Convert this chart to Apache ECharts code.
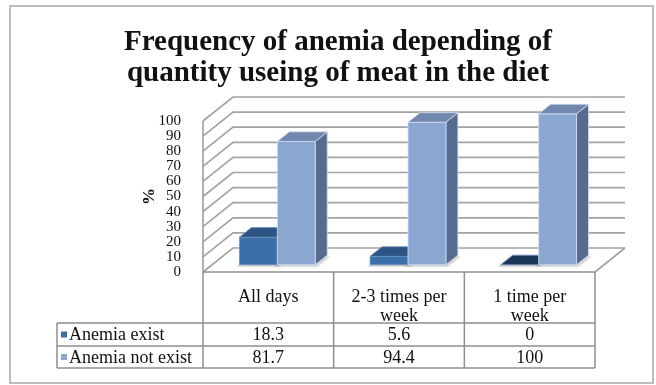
<!DOCTYPE html>
<html>
<head>
<meta charset="utf-8">
<script src="https://cdn.jsdelivr.net/npm/echarts@6/dist/echarts.min.js"></script>
<style>
  html, body { margin: 0; padding: 0; background: #fff; }
  #chart { width: 656px; height: 385px; }
</style>
</head>
<body>
<div id="chart"></div>
<script>
// Meat consumption frequency groups and anemia share (%) in each group
const categories = ['All days', '2-3 times per\nweek', '1 time per\nweek'];
const seriesNames = ['Anemia exist', 'Anemia not exist'];
const anemiaExist = [18.3, 5.6, 0];
const anemiaNotExist = [81.7, 94.4, 100];
const yTicks = [0, 10, 20, 30, 40, 50, 60, 70, 80, 90, 100];

// Plot box (front plane of the pseudo-3D box) and depth projection
const GRID = { left: 203, top: 121, width: 392, height: 151 };
const DX = 30, DY = -24;           // offset from the front plane to the back wall
const BAR_D0 = 0.3, BAR_D1 = 0.7;  // bar depth range, as fraction of box depth
const BAR_W = 0.29;                // bar width, as fraction of category band

const palettes = [
  { front: '#3b6fa9', top: '#2b5483', side: '#22446c', edge: '#6d93c2' },
  { front: '#8ba7d1', top: '#7088ae', side: '#566b8f', edge: '#d3def0' }
];
const SERIF = '"Liberation Serif", "Times New Roman", serif';

const chart = echarts.init(document.getElementById('chart'), null, { renderer: 'canvas' });

function barRender(seriesIdx) {
  return function (params, api) {
    const i = api.value(0);
    const v = api.value(1);
    const band = api.size([1, 0])[0];
    const base = api.coord([i, 0]);
    const topP = api.coord([i, v]);
    const w = band * BAR_W;
    const ox = DX * BAR_D0, oy = DY * BAR_D0;
    const dx = DX * (BAR_D1 - BAR_D0), dy = DY * (BAR_D1 - BAR_D0);
    const x0 = base[0] + ox + (seriesIdx === 0 ? -w : 0);
    const x1 = x0 + w;
    const yb = base[1] + oy;
    const yt = topP[1] + oy;
    const pal = palettes[seriesIdx];
    const children = [];
    // soft shadow on the floor
    children.push({
      type: 'polygon',
      shape: { points: [[x0 - 3, yb + 2], [x1 + 2, yb + 2], [x1 + dx + 3, yb + dy + 1], [x0 + dx - 2, yb + dy + 1]] },
      style: { fill: 'rgba(120,120,120,0.25)', shadowBlur: 4, shadowColor: 'rgba(0,0,0,0.25)' },
      z2: 0
    });
    if (yb - yt > 0.5) {
      children.push({
        type: 'polygon',
        shape: { points: [[x1, yb], [x1 + dx, yb + dy], [x1 + dx, yt + dy], [x1, yt]] },
        style: { fill: pal.side, stroke: pal.edge, lineWidth: 0.8 },
        z2: 1
      });
      children.push({
        type: 'rect',
        shape: { x: x0, y: yt, width: w, height: yb - yt },
        style: { fill: pal.front, stroke: pal.edge, lineWidth: 0.8 },
        z2: 2
      });
    }
    children.push({
      type: 'polygon',
      shape: { points: [[x0, yt], [x1, yt], [x1 + dx, yt + dy], [x0 + dx, yt + dy]] },
      style: { fill: v === 0 ? '#1c3657' : pal.top, stroke: pal.edge, lineWidth: 0.8 },
      z2: 3
    });
    return { type: 'group', children: children };
  };
}

function wallRender(params, api) {
  const v = api.value(0);
  const band = api.size([1, 0])[0];
  const c = api.coord([0, v]);
  const left = c[0] - band / 2;
  const right = left + band * categories.length;
  const y = c[1];
  const lineStyle = { stroke: '#a3a3a3', lineWidth: 1.7, fill: null };
  const children = [{
    type: 'polyline',
    shape: { points: [[left, y], [left + DX, y + DY], [right + DX, y + DY]] },
    style: lineStyle
  }];
  if (v === 0) {
    const top = api.coord([0, yTicks[yTicks.length - 1]])[1];
    children.push({ type: 'line', shape: { x1: left, y1: y, x2: left, y2: top }, style: lineStyle });
    children.push({ type: 'line', shape: { x1: right, y1: y, x2: right + DX, y2: y + DY }, style: lineStyle });
  }
  return { type: 'group', children: children };
}

// Data table under the plot
const tableFont = '18px ' + SERIF;
const lineStroke = { stroke: '#8e8e8e', lineWidth: 1.5 };
const T = { top: 272, head: 323, row1: 346, bottom: 368, legendLeft: 57 };
const bandW = GRID.width / categories.length;
const right = GRID.left + GRID.width;
const tableEls = [];
[T.top, T.head, T.row1, T.bottom].forEach(function (y, k) {
  tableEls.push({ type: 'line', shape: { x1: k === 0 ? GRID.left : T.legendLeft, y1: y, x2: right, y2: y }, style: lineStroke, z: 10 });
});
for (let k = 0; k <= categories.length; k++) {
  const x = GRID.left + bandW * k;
  tableEls.push({ type: 'line', shape: { x1: x, y1: T.top, x2: x, y2: T.bottom }, style: lineStroke, z: 10 });
}
tableEls.push({ type: 'line', shape: { x1: T.legendLeft, y1: T.head, x2: T.legendLeft, y2: T.bottom }, style: lineStroke, z: 10 });
categories.forEach(function (name, k) {
  tableEls.push({
    type: 'text', x: GRID.left + bandW * (k + 0.5), y: 288, z: 10,
    style: { text: name, font: tableFont, fill: '#111', align: 'center', verticalAlign: 'top', lineHeight: 19 }
  });
});
[anemiaExist, anemiaNotExist].forEach(function (vals, s) {
  const cy = s === 0 ? (T.head + T.row1) / 2 : (T.row1 + T.bottom) / 2;
  tableEls.push({ type: 'rect', shape: { x: 61, y: cy - 3, width: 6, height: 6 }, style: { fill: palettes[s].front }, z: 10 });
  tableEls.push({
    type: 'text', x: 69, y: cy + 1, z: 10,
    style: { text: seriesNames[s], font: tableFont, fill: '#111', align: 'left', verticalAlign: 'middle' }
  });
  vals.forEach(function (v, k) {
    tableEls.push({
      type: 'text', x: GRID.left + bandW * (k + 0.5), y: cy + 1, z: 10,
      style: { text: String(v), font: tableFont, fill: '#111', align: 'center', verticalAlign: 'middle' }
    });
  });
});
// outer chart frame
tableEls.push({ type: 'rect', shape: { x: 10, y: 6, width: 643, height: 377 }, style: { fill: null, stroke: '#bdbdbd', lineWidth: 2 }, z: 0 });

const option = {
  backgroundColor: '#ffffff',
  animation: false,
  title: {
    text: 'Frequency of anemia depending of\nquantity useing of meat in the diet',
    left: 333, top: 22, textAlign: 'center',
    textStyle: { fontFamily: SERIF, fontWeight: 'bold', fontSize: 29, lineHeight: 31, color: '#111' }
  },
  grid: { left: GRID.left, top: GRID.top, width: GRID.width, height: GRID.height, outerBoundsMode: 'none' },
  xAxis: {
    type: 'category', data: categories,
    axisLine: { show: false }, axisTick: { show: false }, axisLabel: { show: false }
  },
  yAxis: {
    type: 'value', min: 0, max: 100, interval: 10,
    name: '%', nameLocation: 'middle', nameGap: 45, nameRotate: 90, nameMoveOverlap: false,
    nameTextStyle: { fontFamily: SERIF, fontSize: 17, fontWeight: 'bold', color: '#111' },
    axisLine: { show: false }, axisTick: { show: false }, splitLine: { show: false },
    axisLabel: {
      margin: 22, fontFamily: SERIF, fontSize: 15, lineHeight: 12, color: '#111',
      showMinLabel: true, showMaxLabel: true, hideOverlap: false
    }
  },
  series: [
    {
      type: 'custom', name: 'walls', renderItem: wallRender, silent: true, z: 1,
      data: yTicks.map(function (v) { return [v]; }),
      encode: { y: 0 }
    },
    {
      type: 'custom', name: seriesNames[0], renderItem: barRender(0), z: 2,
      data: anemiaExist.map(function (v, i) { return [i, v]; }),
      encode: { x: 0, y: 1 }
    },
    {
      type: 'custom', name: seriesNames[1], renderItem: barRender(1), z: 3,
      data: anemiaNotExist.map(function (v, i) { return [i, v]; }),
      encode: { x: 0, y: 1 }
    }
  ],
  graphic: { elements: tableEls }
};
chart.setOption(option);
</script>
</body>
</html>
